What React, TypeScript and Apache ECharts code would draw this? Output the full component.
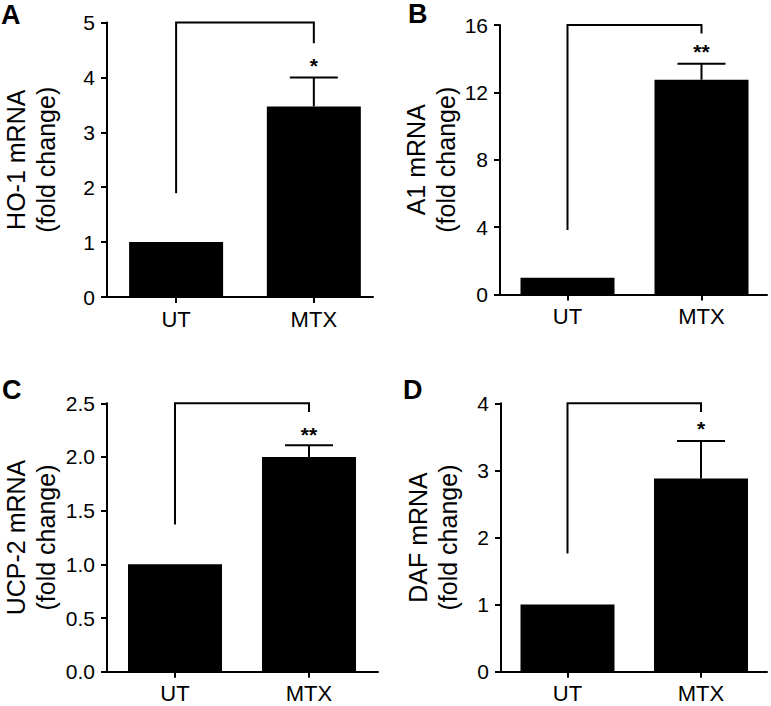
import React, { useEffect, useRef } from "react";
import * as echarts from "echarts";

const categories = ["UT", "MTX"];

// Panel A: HO-1
const hoMean = [1.0, 3.47];
const hoSem = [0, 0.53];
const hoBracket = [1.89, 5.0, 4.62]; // left foot, top, right foot
// Panel B: A1
const a1Mean = [1.0, 12.75];
const a1Sem = [0, 0.95];
const a1Bracket = [3.83, 16, 15.5];
// Panel C: UCP-2
const ucpMean = [1.0, 2.0];
const ucpSem = [0, 0.11];
const ucpBracket = [1.37, 2.5, 2.42];
// Panel D: DAF
const dafMean = [1.0, 2.88];
const dafSem = [0, 0.56];
const dafBracket = [1.76, 4.0, 3.87];

const sigLabels = ["*", "**", "**", "*"];
const sigLevels = [4.3, 14.7, 2.26, 3.7];

const yMax = [5, 16, 2.5, 4];
const yStep = [1, 4, 0.5, 1];
const yDecimals = [0, 0, 1, 0];

const yTitles = ["HO-1 mRNA", "A1 mRNA", "UCP-2 mRNA", "DAF mRNA"];
const panelLetters = ["A", "B", "C", "D"];

const means = [hoMean, a1Mean, ucpMean, dafMean];
const sems = [hoSem, a1Sem, ucpSem, dafSem];
const brackets = [hoBracket, a1Bracket, ucpBracket, dafBracket];

const FONT = "Liberation Sans, Arial, Helvetica, sans-serif";

const layout = [
  { left: 105.5, top: 22.5, right: 373, bottom: 297, ut: 175, mtx: 313.5, nameGap: 46, lx: 1, ly: 1 },
  { left: 500, top: 25, right: 767, bottom: 294.5, ut: 567.5, mtx: 701.5, nameGap: 38, lx: 408, ly: 0 },
  { left: 105, top: 403.3, right: 378, bottom: 671.7, ut: 173.5, mtx: 308.5, nameGap: 46, lx: 2, ly: 376 },
  { left: 501, top: 403.3, right: 767, bottom: 671.7, ut: 567.5, mtx: 701, nameGap: 38, lx: 403, ly: 376 },
];

export default function App() {
  const ref = useRef<HTMLDivElement>(null);

  useEffect(() => {
    if (!ref.current) return;
    const chart = echarts.init(ref.current, undefined, { renderer: "svg" });

    const grids: any[] = [];
    const xAxes: any[] = [];
    const yAxes: any[] = [];
    const series: any[] = [];
    const graphics: any[] = [];

    layout.forEach((L, i) => {
      const s = L.mtx - L.ut;
      grids.push({
        left: L.left,
        top: L.top,
        width: L.right - L.left,
        height: L.bottom - L.top,
        containLabel: false,
      });
      xAxes.push({
        gridIndex: i,
        type: "value",
        min: -(L.ut - L.left) / s,
        max: 1 + (L.right - L.mtx) / s,
        axisLine: { show: true, onZero: false, lineStyle: { color: "#000", width: 2 } },
        axisTick: { show: true, customValues: [0, 1], length: 6, lineStyle: { color: "#000", width: 2 } },
        axisLabel: {
          customValues: [0, 1],
          formatter: (v: number) => categories[Math.round(v)] ?? "",
          fontSize: 22,
          color: "#000",
          margin: 11,
          fontFamily: FONT,
        },
        splitLine: { show: false },
      });
      yAxes.push({
        gridIndex: i,
        type: "value",
        min: 0,
        max: yMax[i],
        interval: yStep[i],
        axisLine: { show: true, onZero: false, lineStyle: { color: "#000", width: 2 } },
        axisTick: { show: true, length: 6, lineStyle: { color: "#000", width: 2 } },
        axisLabel: {
          fontSize: 21,
          color: "#000",
          margin: 12,
          fontFamily: FONT,
          formatter: (v: number) => v.toFixed(yDecimals[i]),
        },
        splitLine: { show: false },
        name: `${yTitles[i]}\n(fold change)`,
        nameLocation: "middle",
        nameRotate: 90,
        nameGap: L.nameGap,
        nameTextStyle: { fontSize: 25, lineHeight: 30, color: "#000", fontFamily: FONT },
      });

      const mean = means[i];
      const sem = sems[i];
      series.push({
        type: "bar",
        xAxisIndex: i,
        yAxisIndex: i,
        data: mean.map((v, j) => [j, v]),
        barWidth: 94,
        itemStyle: { color: "#000" },
        silent: true,
      });
      series.push({
        type: "custom",
        xAxisIndex: i,
        yAxisIndex: i,
        clip: false,
        silent: true,
        data: mean
          .map((m, j) => [j, m, m + sem[j]])
          .filter((d) => d[2] > d[1]),
        renderItem: (_p: any, api: any) => {
          const x = api.value(0);
          const p0 = api.coord([x, api.value(1)]);
          const p1 = api.coord([x, api.value(2)]);
          return {
            type: "group",
            children: [
              {
                type: "line",
                shape: { x1: p0[0], y1: p0[1], x2: p1[0], y2: p1[1] },
                style: { stroke: "#000", lineWidth: 2 },
              },
              {
                type: "line",
                shape: { x1: p1[0] - 24, y1: p1[1], x2: p1[0] + 24, y2: p1[1] },
                style: { stroke: "#000", lineWidth: 2 },
              },
            ],
          };
        },
      });
      const b = brackets[i];
      series.push({
        type: "custom",
        xAxisIndex: i,
        yAxisIndex: i,
        clip: false,
        silent: true,
        data: [[0, b[0], b[1], b[2], sigLevels[i]]],
        renderItem: (_p: any, api: any) => {
          const a = api.coord([0, api.value(1)]);
          const t0 = api.coord([0, api.value(2)]);
          const t1 = api.coord([1, api.value(2)]);
          const c = api.coord([1, api.value(3)]);
          const st = api.coord([1, api.value(4)]);
          return {
            type: "group",
            children: [
              {
                type: "polyline",
                shape: { points: [a, t0, t1, c] },
                style: { stroke: "#000", lineWidth: 2, fill: null },
              },
              {
                type: "text",
                x: st[0],
                y: st[1] + 5,
                style: {
                  text: sigLabels[i],
                  fontSize: 21,
                  fontWeight: "bold",
                  fontFamily: FONT,
                  fill: "#000",
                  align: "center",
                  verticalAlign: "middle",
                },
              },
            ],
          };
        },
      });

      graphics.push({
        type: "text",
        x: L.lx,
        y: L.ly,
        style: {
          text: panelLetters[i],
          fontSize: 27,
          fontWeight: "bold",
          fontFamily: FONT,
          fill: "#000",
          verticalAlign: "top",
        },
      });
    });

    chart.setOption({
      animation: false,
      backgroundColor: "#fff",
      grid: grids,
      xAxis: xAxes,
      yAxis: yAxes,
      series,
      graphic: graphics,
    });

    return () => chart.dispose();
  }, []);

  return (
    <div
      ref={ref}
      style={{ position: "absolute", left: 0, top: 0, width: 771, height: 706, background: "#fff" }}
    />
  );
}
